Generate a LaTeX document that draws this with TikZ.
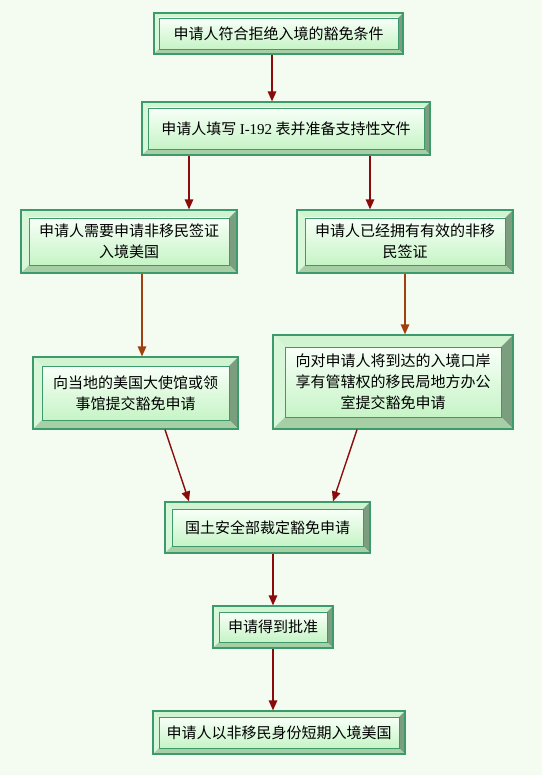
\documentclass[tikz,border=0pt]{standalone}
\usepackage{fontspec}
\setmainfont{Noto Sans CJK SC}
\newfontfamily\serifen{Liberation Serif}
\usetikzlibrary{arrows.meta}
\definecolor{bg}{HTML}{F4FCF2}
\definecolor{bord}{HTML}{3D9A6C}
\definecolor{bevT}{HTML}{D0F4D0}
\definecolor{bevL}{HTML}{D8F6D8}
\definecolor{bevR}{HTML}{7B9E7F}
\definecolor{bevB}{HTML}{A6CFA6}
\definecolor{faceT}{HTML}{F8FFF8}
\definecolor{faceB}{HTML}{C6F4C6}
\definecolor{arrred}{HTML}{8B0A0A}
\definecolor{arrbrown}{HTML}{A0400F}
\tikzset{
  boxnode/.style={draw=bord, line width=1.2pt, inner sep=0pt, align=center,
    font=\fontsize{15pt}{21pt}\selectfont},
  arr/.style={-{Triangle[length=10pt,width=8.5pt]}, line width=1.4pt, arrred},
  arrb/.style={arr, arrbrown},
}
\newcommand{\bevbox}[7]{%
  \fill[bevT] (#2,#3) -- (#4,#3) -- (#4-#6,#3+#6) -- (#2+#6,#3+#6) -- cycle;
  \fill[bevL] (#2,#3) -- (#2+#6,#3+#6) -- (#2+#6,#5-#6) -- (#2,#5) -- cycle;
  \fill[bevR] (#4,#3) -- (#4,#5) -- (#4-#6,#5-#6) -- (#4-#6,#3+#6) -- cycle;
  \fill[bevB] (#2,#5) -- (#2+#6,#5-#6) -- (#4-#6,#5-#6) -- (#4,#5) -- cycle;
  \shade[top color=faceT,bottom color=faceB] (#2+#6,#3+#6) rectangle (#4-#6,#5-#6);
  \draw[bord, line width=0.8pt] (#2+#6,#3+#6) rectangle (#4-#6,#5-#6);
  \node[boxnode, minimum width={(#4-#2)*1pt}, minimum height={(#5-#3)*1pt}] (#1) at ({(#2+#4)/2},{(#3+#5)/2}) {#7};
}
\begin{document}
\begin{tikzpicture}[x=1pt,y=-1pt]
\fill[bg] (0,0) rectangle (542,775);
\useasboundingbox (0,0) rectangle (542,775);

\bevbox{b1}{154}{13}{403}{54}{5}{申请人符合拒绝入境的豁免条件}
\bevbox{b2}{142}{102}{430}{155}{6}{申请人填写 {\serifen I-192} 表并准备支持性文件}
\bevbox{b3}{21}{210}{237}{273}{8}{申请人需要申请非移民签证\\入境美国}
\bevbox{b4}{297}{210}{513}{273}{8}{申请人已经拥有有效的非移\\民签证}
\bevbox{b5}{33}{357}{238}{429}{9}{向当地的美国大使馆或领\\事馆提交豁免申请}
\bevbox{b6}{273}{335}{513}{429}{12}{向对申请人将到达的入境口岸\\享有管辖权的移民局地方办公\\室提交豁免申请}
\bevbox{b7}{165}{502}{370}{553}{7}{国土安全部裁定豁免申请}
\bevbox{b8}{213}{606}{333}{648}{6}{申请得到批准}
\bevbox{b9}{153}{711}{405}{754}{6}{申请人以非移民身份短期入境美国}

\draw[arr] (b1.south -| 272,0) -- (b2.north -| 272,0);
\draw[arr] (b2.south -| 189,0) -- (b3.north -| 189,0);
\draw[arr] (b2.south -| 370,0) -- (b4.north -| 370,0);
\draw[arrb] (b3.south -| 142,0) -- (b5.north -| 142,0);
\draw[arrb] (b4.south -| 405,0) -- (b6.north -| 405,0);
\draw[arr] (b5.south -| 165,0) -- (b7.north -| 189,0);
\draw[arr] (b6.south -| 357,0) -- (b7.north -| 333,0);
\draw[arr] (b7.south -| 273,0) -- (b8.north -| 273,0);
\draw[arr] (b8.south -| 273,0) -- (b9.north -| 273,0);
\end{tikzpicture}
\end{document}
